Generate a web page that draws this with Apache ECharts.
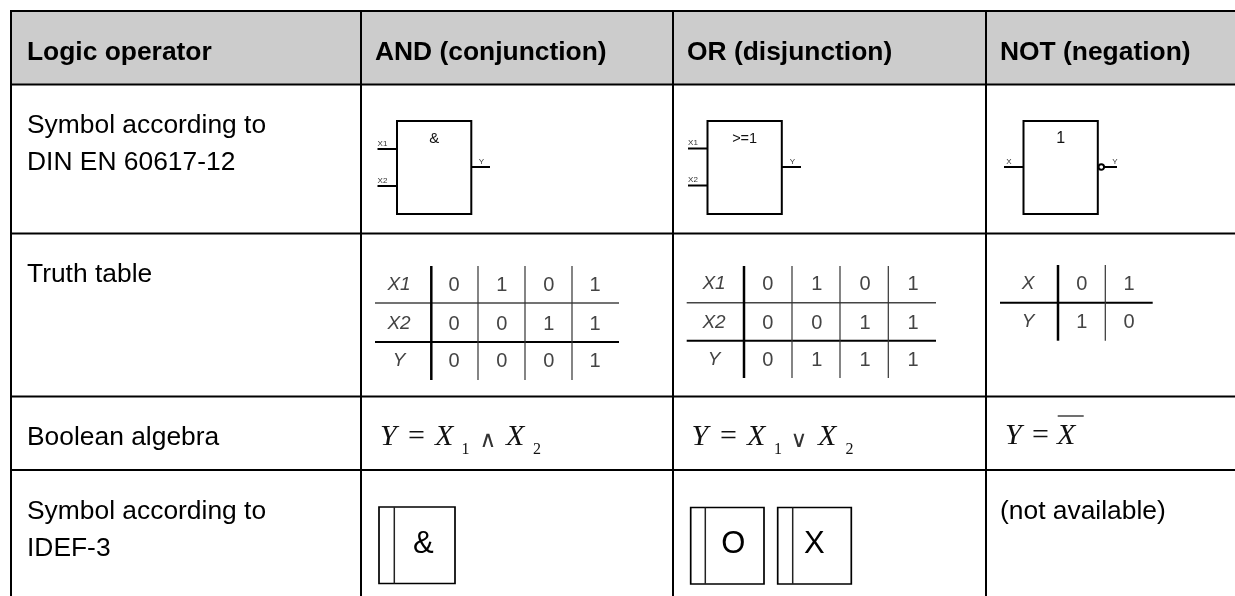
<!DOCTYPE html>
<html>
<head>
<meta charset="utf-8">
<title>Logic operators</title>
<script src="https://cdn.jsdelivr.net/npm/echarts@6/dist/echarts.min.js"></script>
<style>
  html, body { margin: 0; padding: 0; background: #fff; }
</style>
</head>
<body>
<div id="main" style="width: 1235px; height: 596px;"></div>
<script type="text/javascript">

// table content
var headers = ['Logic operator', 'AND (conjunction)', 'OR (disjunction)', 'NOT (negation)'];
var din = ['Symbol according to', 'DIN EN 60617-12'];
var truthLabel = 'Truth table';
var boolLabel = 'Boolean algebra';
var idef = ['Symbol according to', 'IDEF-3'];
var notAvailable = '(not available)';

var andRows = ['X1', 'X2', 'Y'];
var andValues = [[0, 1, 0, 1], [0, 0, 1, 1], [0, 0, 0, 1]];
var orRows = ['X1', 'X2', 'Y'];
var orValues = [[0, 1, 0, 1], [0, 0, 1, 1], [0, 1, 1, 1]];
var notRows = ['X', 'Y'];
var notValues = [[0, 1], [1, 0]];

// layout of the page, in the pixel space of the hidden axes
var W = 1235, H = 596;
var colX = [11, 361, 673, 986];
var rowY = [11, 84.5, 233.5, 396.5, 470];
var PAD = 41.5;
var SANS = '"Liberation Sans", Arial, sans-serif';
var SERIF = '"Liberation Serif", "Times New Roman", serif';

var items = [];
function line(x1, y1, x2, y2, w, c) {
  items.push({ t: 'line', x1: x1, y1: y1, x2: x2, y2: y2, w: w || 2, c: c || '#000' });
}
function rect(x, y, x2, y2, fill, w) {
  items.push({ t: 'rect', x1: x, y1: y, x2: x2, y2: y2, fill: fill, w: w || 0 });
}
function circle(x, y, r, w) {
  items.push({ t: 'circle', x1: x, y1: y, r: r, w: w });
}
function text(x, y, s, font, c, align) {
  items.push({ t: 'text', x1: x, y1: y, s: String(s), font: font, c: c || '#000', align: align || 'left' });
}

// grid of the big table
rect(colX[0], rowY[0], W, rowY[1], '#cccccc');
rowY.forEach(function (y) { line(colX[0] - 1, y, W, y, 2); });
colX.forEach(function (x) { line(x, rowY[0] - 1, x, H, 2); });

// header and first column
var headX = [27, 375, 687, 1000];
var f = '26.4px ' + SANS;
headers.forEach(function (h, i) { text(headX[i], rowY[0] + PAD, h, 'bold ' + f); });
din.forEach(function (s, i) { text(27, rowY[1] + PAD + i * 37, s, f); });
text(27, rowY[2] + PAD, truthLabel, f);
text(27, rowY[3] + PAD, boolLabel, f);
idef.forEach(function (s, i) { text(27, rowY[4] + PAD + i * 37, s, f); });
text(1000, rowY[4] + PAD, notAvailable, f);

// DIN gate block
var small = '8px ' + SANS;
function gate(left, label, labelFont, wires, outEnd, outLabelX) {
  var right = left + 74.3, top = 121, bottom = 214, outY = 167;
  rect(left, top, right, bottom, null, 2);
  text((left + right) / 2, top + 18, label, labelFont, '#111', 'center');
  wires.forEach(function (p) {
    line(left - 19.5, p.y, left, p.y, 2);
    text(left - 14.5, p.y - 5.5, p.name, small, '#333', 'center');
  });
  line(right, outY, outEnd, outY, 2);
  text(outLabelX, outY - 5.5, 'Y', small, '#333', 'center');
}
gate(397, '&', '15px ' + SANS, [{ y: 149, name: 'X1' }, { y: 186, name: 'X2' }], 490, 481.5);
gate(707.5, '>=1', '14.5px ' + SANS, [{ y: 148.5, name: 'X1' }, { y: 185.5, name: 'X2' }], 801, 792.5);
gate(1023.5, '1', '16px ' + SANS, [{ y: 167, name: 'X' }], 1117, 1115);
circle(1101.3, 167, 2.8, 2);

// small truth table
function truth(rows, values, labelX, cellX, vLines, hLines, rowMid, span, thick) {
  rowMid.forEach(function (y, r) {
    text(labelX, y + 1, rows[r], 'italic 19px ' + SANS, '#444', 'center');
    values[r].forEach(function (v, c) {
      text(cellX[c], y + 1, v, '20px ' + SANS, '#444', 'center');
    });
  });
  hLines.forEach(function (y, i) {
    line(span.x1, y, span.x2, y, i == thick ? 2 : 1.5, i == thick ? '#000' : '#444');
  });
  vLines.forEach(function (x, i) {
    line(x, span.y1, x, span.y2, i == 0 ? 2.5 : 1.2, i == 0 ? '#000' : '#333');
  });
}
truth(andRows, andValues, 399, [454, 501.7, 548.7, 595], [431.3, 478, 525, 572],
  [303, 342], [284, 323, 360], { x1: 375, x2: 619, y1: 266, y2: 380 }, 1);
truth(orRows, orValues, 714, [767.7, 816.7, 865, 913], [744, 792, 840, 888.3],
  [302.7, 340.7], [283, 322, 359], { x1: 686.7, x2: 936, y1: 266, y2: 378 }, 1);
truth(notRows, notValues, 1028, [1081.7, 1129], [1058, 1105.3],
  [302.7], [283, 321], { x1: 1000, x2: 1152.7, y1: 265, y2: 340.7 }, 0);

// boolean formulas
var it = 'italic 30px ' + SERIF;
var rm = '30px ' + SERIF;
var sb = '16px ' + SERIF;
var op = '23px "DejaVu Sans", sans-serif';
function formula(parts, base) {
  parts.forEach(function (p) {
    items.push({
      t: 'text', x1: p[0], y1: base + (p[3] || 0), s: p[1], font: p[2],
      c: p[5] || '#111', align: p[4] || 'left', base: true
    });
  });
}
formula([[380, 'Y', it], [408, '=', rm], [435, 'X', it], [461.5, '1', sb, 5], [488, '\u2227', op, 0, 'center', '#333'], [506, 'X', it], [533, '2', sb, 5]], 452.5);
formula([[691.5, 'Y', it], [720, '=', rm], [747, 'X', it], [774, '1', sb, 5], [799, '\u2228', op, 0, 'center', '#333'], [818, 'X', it], [845.5, '2', sb, 5]], 452.5);
formula([[1005, 'Y', it], [1032, '=', rm], [1057, 'X', it]], 451.5);
line(1057.7, 416, 1083.7, 416, 1.2, '#111');

// IDEF-3 boxes
function idefBox(x1, x2, inner, y1, y2, label, labelX) {
  rect(x1, y1, x2, y2, null, 1.7);
  line(inner, y1, inner, y2, 1.5, '#222');
  text(labelX, 544, label, '31px ' + SANS, '#000', 'center');
}
idefBox(379, 455, 394.3, 507, 583.5, '&', 423.3);
idefBox(690.7, 764, 705.3, 507.5, 584, 'O', 733.3);
idefBox(777.7, 851.3, 792.7, 507.5, 584, 'X', 814.3);

function renderItem(params, api) {
  var d = items[params.dataIndex];
  var p = api.coord([d.x1, d.y1]);
  if (d.t == 'line') {
    var q = api.coord([d.x2, d.y2]);
    return {
      type: 'line',
      shape: { x1: p[0], y1: p[1], x2: q[0], y2: q[1] },
      style: { stroke: d.c, lineWidth: d.w },
      silent: true
    };
  }
  if (d.t == 'rect') {
    var r = api.coord([d.x2, d.y2]);
    return {
      type: 'rect',
      shape: { x: p[0], y: p[1], width: r[0] - p[0], height: r[1] - p[1] },
      style: { fill: d.fill || 'none', stroke: d.w ? '#000' : 'none', lineWidth: d.w },
      silent: true
    };
  }
  if (d.t == 'circle') {
    return {
      type: 'circle',
      shape: { cx: p[0], cy: p[1], r: d.r },
      style: { fill: '#fff', stroke: '#000', lineWidth: d.w },
      silent: true
    };
  }
  return {
    type: 'text',
    style: {
      x: p[0], y: p[1], text: d.s, font: d.font, fill: d.c,
      align: d.align, verticalAlign: d.base ? 'bottom' : 'middle'
    },
    silent: true
  };
}

var myChart = echarts.init(document.getElementById('main'));
var option = {
  animation: false,
  backgroundColor: '#fff',
  grid: { left: 0, right: 0, top: 0, bottom: 0 },
  xAxis: { type: 'value', min: 0, max: W, show: false },
  yAxis: { type: 'value', min: 0, max: H, inverse: true, show: false },
  series: [
    {
      type: 'custom',
      clip: false,
      renderItem: renderItem,
      data: items.map(function (d, i) { return [i]; }),
      encode: { x: 0 }
    }
  ]
};
option && myChart.setOption(option);
</script>
</body>
</html>
